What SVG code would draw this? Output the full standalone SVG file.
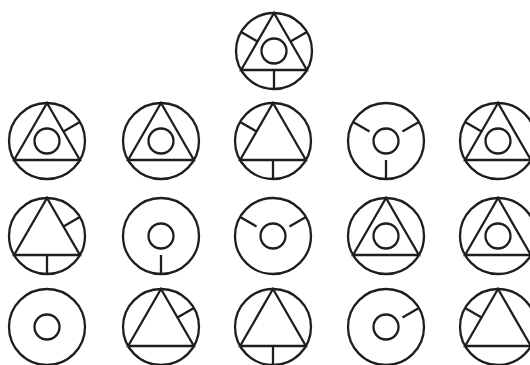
<svg xmlns="http://www.w3.org/2000/svg" xmlns:xlink="http://www.w3.org/1999/xlink" width="530" height="365" viewBox="0 0 530 365">
<style>
.s{fill:none;stroke:#1e1e1e;stroke-width:2.3;stroke-linejoin:miter;stroke-linecap:butt}
</style>
<defs>
<circle id="ring" class="s" r="38"/>
<polygon id="tri" class="s" points="0,-38 -32.9,19 32.9,19"/>
<circle id="hub" class="s" r="12.5"/>
<line id="sL" class="s" x1="-16.45" y1="-9.5" x2="-32.9" y2="-19"/>
<line id="sR" class="s" x1="16.45" y1="-9.5" x2="32.9" y2="-19"/>
<line id="sB" class="s" x1="0" y1="19" x2="0" y2="38"/>
</defs>
<rect width="530" height="365" fill="#fff"/>
<g id="top" transform="translate(274,51)"><use href="#ring"/><use href="#tri"/><use href="#hub"/><use href="#sL"/><use href="#sR"/><use href="#sB"/></g>
<g id="r1c1" transform="translate(47,141)"><use href="#ring"/><use href="#tri"/><use href="#hub"/><use href="#sR"/></g>
<g id="r1c2" transform="translate(161,141)"><use href="#ring"/><use href="#tri"/><use href="#hub"/></g>
<g id="r1c3" transform="translate(273,141)"><use href="#ring"/><use href="#tri"/><use href="#sL"/><use href="#sB"/></g>
<g id="r1c4" transform="translate(386,141)"><use href="#ring"/><use href="#hub"/><use href="#sL"/><use href="#sR"/><use href="#sB"/></g>
<g id="r1c5" transform="translate(498,141)"><use href="#ring"/><use href="#tri"/><use href="#hub"/><use href="#sL"/></g>
<g id="r2c1" transform="translate(47,236)"><use href="#ring"/><use href="#tri"/><use href="#sR"/><use href="#sB"/></g>
<g id="r2c2" transform="translate(161,236)"><use href="#ring"/><use href="#hub"/><use href="#sB"/></g>
<g id="r2c3" transform="translate(273,236)"><use href="#ring"/><use href="#hub"/><use href="#sL"/><use href="#sR"/></g>
<g id="r2c4" transform="translate(386,236)"><use href="#ring"/><use href="#tri"/><use href="#hub"/></g>
<g id="r2c5" transform="translate(498,236)"><use href="#ring"/><use href="#tri"/><use href="#hub"/></g>
<g id="r3c1" transform="translate(47,327)"><use href="#ring"/><use href="#hub"/></g>
<g id="r3c2" transform="translate(161,327)"><use href="#ring"/><use href="#tri"/><use href="#sR"/></g>
<g id="r3c3" transform="translate(273,327)"><use href="#ring"/><use href="#tri"/><use href="#sB"/></g>
<g id="r3c4" transform="translate(386,327)"><use href="#ring"/><use href="#hub"/><use href="#sR"/></g>
<g id="r3c5" transform="translate(498,327)"><use href="#ring"/><use href="#tri"/><use href="#sL"/></g>
<g id="connectors"/>
</svg>
